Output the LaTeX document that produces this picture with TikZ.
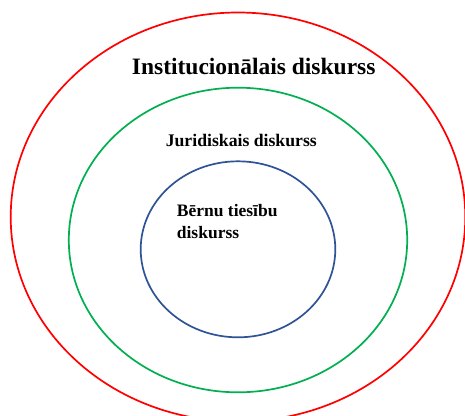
\documentclass[tikz,border=0pt]{standalone}
\usepackage{fontspec}
\setmainfont{Liberation Serif}
\definecolor{ringred}{RGB}{255,0,0}
\definecolor{ringgreen}{RGB}{0,176,80}
\definecolor{ringblue}{RGB}{47,84,150}
\tikzset{
  ring/.style={line width=1.7pt},
  lbl/.style={inner sep=0pt, font=\bfseries},
}
\begin{document}
\begin{tikzpicture}[x=1pt,y=-1pt]
\useasboundingbox (0,0) rectangle (465,415);
\clip (0,0) rectangle (465,415);
\fill[white] (0,0) rectangle (465,415);
\draw[ring, ringred] (238,217) ellipse [x radius=227.3, y radius=204.5];
\draw[ring, ringgreen] (238,240) ellipse [x radius=169.2, y radius=152.3];
\draw[ring, ringblue] (238,249.3) ellipse [x radius=97.3, y radius=88];
\node[lbl, anchor=base, font=\bfseries\fontsize{23.5}{28}\selectfont] (inst) at (253.7,74) {Institucionālais diskurss};
\node[lbl, anchor=base, font=\bfseries\fontsize{17.7}{21}\selectfont] (jur) at (241.3,146) {Juridiskais diskurss};
\node[lbl, anchor=base west, font=\bfseries\fontsize{17.5}{21}\selectfont] (bt1) at (176.7,216) {Bērnu tiesību};
\node[lbl, anchor=base west, font=\bfseries\fontsize{17.5}{21}\selectfont] (bt2) at (176.7,238.3) {diskurss};
\end{tikzpicture}
\end{document}
